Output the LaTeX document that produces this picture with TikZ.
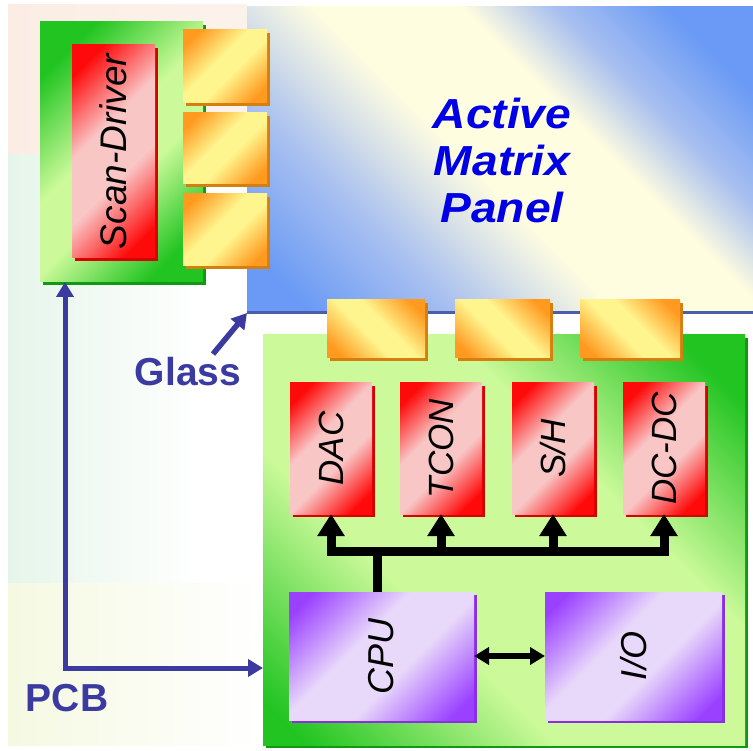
\documentclass[tikz,border=0pt]{standalone}
\usepackage{fontspec}
\setmainfont{Liberation Sans}
\usetikzlibrary{arrows.meta,shadows}

\definecolor{panelblue}{HTML}{6A9AF5}
\definecolor{panelmid}{HTML}{A9C0F0}
\definecolor{panelcream}{HTML}{FFFDE0}
\definecolor{gdark}{HTML}{22C422}
\definecolor{glight}{HTML}{CCFA9A}
\definecolor{gshadow}{HTML}{119911}
\definecolor{rdark}{HTML}{FF0A0A}
\definecolor{rlight}{HTML}{F9C6C6}
\definecolor{rshadow}{HTML}{D80000}
\definecolor{odark}{HTML}{FF9A20}
\definecolor{olight}{HTML}{FFF58E}
\definecolor{oshadow}{HTML}{D47F0E}
\definecolor{pdark}{HTML}{9A40FF}
\definecolor{plight}{HTML}{E8D8FA}
\definecolor{pshadow}{HTML}{8A2EE6}
\definecolor{arrowblue}{HTML}{3A3AA0}
\definecolor{lineblue}{HTML}{4A5FA8}
\definecolor{textblue}{HTML}{0000E6}
\definecolor{bgpeach}{HTML}{FBEDE4}
\definecolor{bggreen}{HTML}{E6F5EA}
\definecolor{bgyellow}{HTML}{F5F9E2}

\pgfdeclarehorizontalshading{panelshade}{100bp}{color(0bp)=(panelblue); color(20bp)=(panelblue); color(33bp)=(panelmid); color(47bp)=(panelcream); color(60bp)=(panelcream); color(68bp)=(panelmid); color(78bp)=(panelblue); color(100bp)=(panelblue)}
\pgfdeclarehorizontalshading{greenshade}{100bp}{color(0bp)=(gdark); color(24bp)=(gdark); color(45bp)=(glight); color(57bp)=(glight); color(76bp)=(gdark); color(100bp)=(gdark)}
\pgfdeclarehorizontalshading{pcbshade}{100bp}{color(0bp)=(gdark); color(18bp)=(gdark); color(38bp)=(glight); color(62bp)=(glight); color(80bp)=(gdark); color(100bp)=(gdark)}
\pgfdeclarehorizontalshading{redshade}{100bp}{color(0bp)=(rdark); color(22bp)=(rdark); color(42bp)=(rlight); color(58bp)=(rlight); color(78bp)=(rdark); color(100bp)=(rdark)}
\pgfdeclarehorizontalshading{orangeshade}{100bp}{color(0bp)=(odark); color(22bp)=(odark); color(44bp)=(olight); color(56bp)=(olight); color(78bp)=(odark); color(100bp)=(odark)}
\pgfdeclarehorizontalshading{purpleshade}{100bp}{color(0bp)=(pdark); color(20bp)=(pdark); color(42bp)=(plight); color(58bp)=(plight); color(80bp)=(pdark); color(100bp)=(pdark)}

\tikzset{
  box/.style={inner sep=0pt, outer sep=0pt, anchor=north west, shade},
  panelbox/.style={box, shading=panelshade, shading angle=45},
  greenbox/.style={box, shading=greenshade, shading angle=-45,
    drop shadow={shadow xshift=3pt, shadow yshift=-3pt, fill=gshadow, opacity=1}},
  pcbbox/.style={box, shading=pcbshade, shading angle=45,
    drop shadow={shadow xshift=3pt, shadow yshift=-3pt, fill=gshadow, opacity=1}},
  redbox/.style={box, shading=redshade, shading angle=-45,
    minimum width=82pt, minimum height=131pt,
    font=\itshape\fontsize{35}{40}\selectfont,
    drop shadow={shadow xshift=3pt, shadow yshift=-3pt, fill=rshadow, opacity=1}},
  orangeA/.style={box, shading=orangeshade, shading angle=-45,
    drop shadow={shadow xshift=3pt, shadow yshift=-3pt, fill=oshadow, opacity=1}},
  orangeB/.style={box, shading=orangeshade, shading angle=45,
    drop shadow={shadow xshift=3pt, shadow yshift=-3pt, fill=oshadow, opacity=1}},
  purplebox/.style={box, shading=purpleshade, shading angle=-45,
    font=\itshape\fontsize{36}{40}\selectfont,
    drop shadow={shadow xshift=3pt, shadow yshift=-3pt, fill=pshadow, opacity=1}},
  bluelabel/.style={text=arrowblue, font=\bfseries\fontsize{39}{40}\selectfont, inner sep=0pt},
  bluearrow/.style={draw=arrowblue, line width=5pt, line join=miter,
    arrows={-Triangle[width=17pt,length=15pt]}},
  busline/.style={draw=black, line width=9pt, line join=miter},
  busarrow/.style={busline, arrows={-Triangle[width=26pt,length=22pt]}},
  dblarrow/.style={draw=black, line width=6pt,
    arrows={Triangle[width=17pt,length=15pt]-Triangle[width=17pt,length=15pt]}},
}

\begin{document}
\begin{tikzpicture}[x=1pt,y=-1pt]
\useasboundingbox (0,0) rectangle (753,751);
\fill[white] (0,0) rectangle (753,751);

% faint background tints
\shade[left color=bgpeach, right color=bgpeach!70!white] (8,5) rectangle (247,155);
\shade[left color=bggreen, right color=white] (8,155) rectangle (200,583);
\shade[left color=bgyellow, right color=white] (8,583) rectangle (263,745);

% panel
\node[panelbox, minimum width=506pt, minimum height=306pt] (panel) at (247,7) {};
\draw[lineblue, line width=3pt] (panel.south west) -- (panel.south east);
\node[text=textblue, font=\bfseries\itshape\fontsize{42}{47}\selectfont, align=center, inner sep=0pt, xscale=1.1]
  (panelText) at (502,160) {Active\\Matrix\\Panel};

% scan driver
\node[greenbox, minimum width=163pt, minimum height=260pt] (sd) at (40,22) {};
\node[redbox, minimum width=83pt, minimum height=213pt, font=\itshape\fontsize{37}{40}\selectfont]
  (scan) at (72,45) {\rotatebox{90}{Scan-Driver}};
\node[orangeA, minimum width=84pt, minimum height=73pt] (o1) at (183,30) {};
\node[orangeA, minimum width=84pt, minimum height=71pt] (o2) at (183,113) {};
\node[orangeA, minimum width=84pt, minimum height=72pt] (o3) at (183,194) {};

% PCB board
\node[pcbbox, minimum width=482pt, minimum height=410pt] (pcb) at (263,335) {};
\node[orangeB, minimum width=98pt, minimum height=58pt] (o4) at (327,300) {};
\node[orangeB, minimum width=95pt, minimum height=58pt] (o5) at (455,300) {};
\node[orangeB, minimum width=100pt, minimum height=58pt] (o6) at (580,300) {};

\node[redbox] (dac) at (290,383) {\rotatebox{90}{DAC}};
\node[redbox] (tcon) at (400,383) {\rotatebox{90}{TCON}};
\node[redbox] (sh) at (512,383) {\rotatebox{90}{S/H}};
\node[redbox] (dcdc) at (623,383) {\rotatebox{90}{DC-DC}};

\node[purplebox, minimum width=185pt, minimum height=128pt] (cpu) at (289,592) {\rotatebox{90}{CPU}};
\node[purplebox, minimum width=177pt, minimum height=128pt] (io) at (545,592) {\rotatebox{90}{I/O}};

% bus
\coordinate (busL) at (331,551);
\coordinate (busR) at (664,551);
\coordinate (stem) at (377,551);
\draw[busline] (stem |- cpu.north) -- (stem);
\draw[busline, arrows={Triangle[width=26pt,length=22pt]-Triangle[width=26pt,length=22pt]}]
  (dac.south) -- (busL) -- (busR) -- (dcdc.south);
\draw[busarrow] (tcon.south |- busL) -- (tcon.south);
\draw[busarrow] (sh.south |- busL) -- (sh.south);
\draw[dblarrow] (cpu.east) -- (io.west);

% PCB / glass arrows
\coordinate (corner) at (65,668);
\draw[bluearrow, arrows={Triangle[width=17pt,length=15pt]-Triangle[width=17pt,length=15pt]}]
  (sd.south -| corner) -- (corner) -- (corner -| pcb.west);
\node[bluelabel] (pcbLabel) at (67,698) {PCB};
\node[bluelabel] (glassLabel) at (188,372) {Glass};
\coordinate (glassTail) at (213,354);
\draw[bluearrow, line width=5.5pt] (glassTail) -- (panel.south west);
\end{tikzpicture}
\end{document}
